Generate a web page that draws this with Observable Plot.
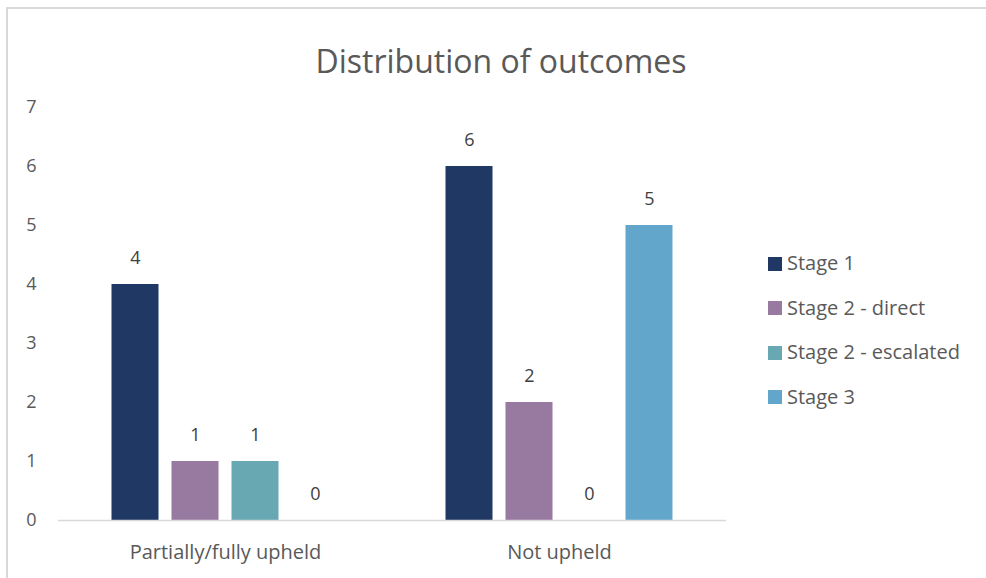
<!DOCTYPE html>
<html>
<head>
<meta charset="utf-8">
<script src="https://cdn.jsdelivr.net/npm/d3@7"></script>
<script src="https://cdn.jsdelivr.net/npm/@observablehq/plot@0.6"></script>
<style>
  html, body { margin: 0; padding: 0; background: #fff; overflow: hidden; }
  #wrap { position: relative; width: 986px; height: 578px; font-family: "Open Sans", sans-serif; }
  #border { position: absolute; left: 6px; top: 7px; width: 1000px; height: 600px; border-left: 2px solid #d9d9d9; border-top: 2px solid #d9d9d9; box-sizing: border-box; }
  #chart { position: absolute; left: 0; top: 0; }
  #title { position: absolute; left: 0; top: 0; }
  #legend { position: absolute; left: 768px; top: 0; }
  .li { position: absolute; left: 0; white-space: nowrap; font-size: 20px; color: #595959; height: 26px; line-height: 26px; }
  .sw { display: inline-block; width: 14px; height: 14px; vertical-align: middle; margin-right: 5px; position: relative; top: -1px; }
</style>
</head>
<body>
<div id="wrap">
  <div id="border"></div>
  <div id="chart"></div>
  <svg id="title" width="986" height="100"><text x="501" y="73" text-anchor="middle" font-family="Open Sans" font-size="32" fill="#595959">Distribution of outcomes</text></svg>
  <div id="legend"></div>
</div>
<script>
const categories = ["Partially/fully upheld", "Not upheld"];
const stages = ["Stage 1", "Stage 2 - direct", "Stage 2 - escalated", "Stage 3"];
const colors = ["#203864", "#9879A0", "#67A8B3", "#62A7CB"];
const partiallyUpheld = [4, 1, 1, 0];
const notUpheld = [6, 2, 0, 5];
const yTicks = [0, 1, 2, 3, 4, 5, 6, 7];

const seriesByCategory = [partiallyUpheld, notUpheld];
const data = [];
categories.forEach((c, i) => stages.forEach((s, j) => data.push({category: c, stage: s, value: seriesByCategory[i][j]})));

const chart = Plot.plot({
  width: 986,
  height: 578,
  marginLeft: 57.5,
  marginRight: 259,
  marginTop: 107,
  marginBottom: 58,
  style: {fontFamily: "Open Sans", fontSize: "18px", color: "#595959", background: "transparent"},
  fx: {domain: categories, padding: 0, label: null, tickSize: 0, tickPadding: 24, axis: "bottom"},
  x: {domain: stages, paddingInner: 0.213, paddingOuter: 0.85, axis: null},
  y: {domain: [0, 7], ticks: yTicks, tickSize: 0, tickPadding: 22, label: null, tickFormat: d3.format("d")},
  color: {domain: stages, range: colors},
  marks: [
    Plot.barY(data, {fx: "category", x: "stage", y: "value", fill: "stage"}),
    Plot.ruleY([0], {stroke: "#d9d9d9", strokeWidth: 1.5}),
    Plot.text(data, {fx: "category", x: "stage", y: "value", text: d => String(d.value), dy: -26, fill: "#404040", fontSize: 18})
  ]
});
chart.querySelectorAll("[aria-label='fx-axis tick label'] text").forEach(t => t.setAttribute("font-size", "20"));
document.getElementById("chart").appendChild(chart);

const legend = document.getElementById("legend");
const rowCenters = [263, 307.5, 352, 396.5];
stages.forEach((s, i) => {
  const row = document.createElement("div");
  row.className = "li";
  row.style.top = (rowCenters[i] - 13) + "px";
  const sw = document.createElement("span");
  sw.className = "sw";
  sw.style.background = colors[i];
  row.appendChild(sw);
  row.appendChild(document.createTextNode(s));
  legend.appendChild(row);
});
</script>
</body>
</html>
